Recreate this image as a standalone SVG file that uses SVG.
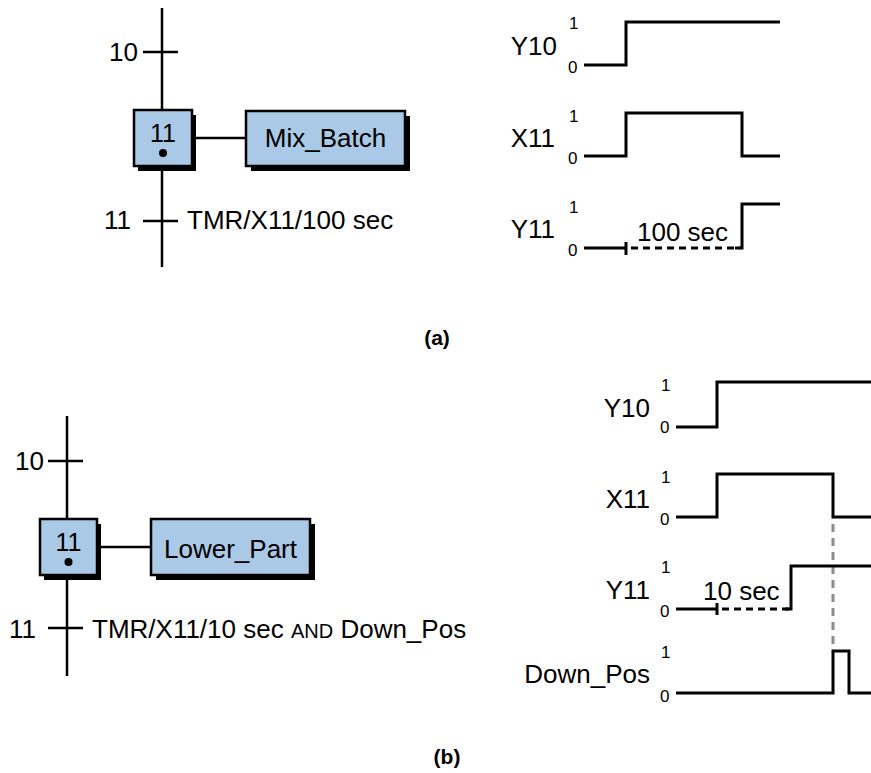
<svg xmlns="http://www.w3.org/2000/svg" width="871" height="773" viewBox="0 0 871 773">
<style>
text{font-family:"Liberation Sans",Arial,sans-serif;fill:#000}
.lbl{font-size:26px}
.num{font-size:25px}
.lv{font-size:17px}
.cap{font-size:21px;font-weight:bold}
.ln{stroke:#000;stroke-width:2.5;fill:none}
.sig{stroke:#000;stroke-width:3;fill:none;stroke-linejoin:miter}
.dash{stroke:#000;stroke-width:3;fill:none;stroke-dasharray:7 5}
.gdash{stroke:#8c8c8c;stroke-width:3;fill:none;stroke-dasharray:8 6}
.box{fill:#a9c9e6;stroke:#000;stroke-width:2.5}
.shd{fill:#000}
</style>

<!-- (a) ladder -->
<g id="connectors-a">
<line class="ln" x1="162" y1="8" x2="162" y2="110"/>
<line class="ln" x1="162" y1="166" x2="162" y2="267"/>
<line class="ln" x1="143" y1="52" x2="178" y2="52"/>
<line class="ln" x1="143" y1="221" x2="178" y2="221"/>
<line class="ln" x1="192" y1="138" x2="246" y2="138"/>
</g>
<g id="trans-10a"><text class="lbl" x="138" y="61" text-anchor="end">10</text></g>
<g id="trans-11a">
<text class="lbl" x="131" y="229" text-anchor="end">11</text>
<text class="lbl" x="187" y="229">TMR/X11/100 sec</text>
</g>
<g id="step-11a">
<rect class="shd" x="138" y="115" width="58" height="56"/>
<rect class="box" x="134" y="110" width="58" height="56"/>
<text class="num" x="163" y="142" text-anchor="middle">11</text>
<circle cx="163" cy="153" r="4"/>
</g>
<g id="action-mix">
<rect class="shd" x="251" y="116" width="159" height="55"/>
<rect class="box" x="246" y="111" width="159" height="55"/>
<text class="lbl" x="325.5" y="147" text-anchor="middle">Mix_Batch</text>
</g>

<!-- (a) timing -->
<g id="timing-a">
<text class="lbl" x="557" y="55" text-anchor="end">Y10</text>
<text class="lv" x="569" y="29">1</text>
<text class="lv" x="568" y="73">0</text>
<polyline class="sig" points="584,65 626,65 626,22 780,22"/>

<text class="lbl" x="555" y="147" text-anchor="end">X11</text>
<text class="lv" x="569" y="122">1</text>
<text class="lv" x="568" y="164">0</text>
<polyline class="sig" points="584,156 626,156 626,113 742,113 742,156 780,156"/>

<text class="lbl" x="555" y="238" text-anchor="end">Y11</text>
<text class="lv" x="569" y="213">1</text>
<text class="lv" x="568" y="256">0</text>
<line class="sig" x1="584" y1="248" x2="626" y2="248"/>
<line class="sig" x1="626" y1="242" x2="626" y2="255"/>
<line class="dash" x1="631" y1="248" x2="740" y2="248"/>
<polyline class="sig" points="735,248 742,248 742,204 780,204"/>
<text class="lbl" x="637" y="241">100 sec</text>
</g>
<text class="cap" x="437" y="345" text-anchor="middle">(a)</text>

<!-- (b) ladder -->
<g id="connectors-b">
<line class="ln" x1="67" y1="416" x2="67" y2="519"/>
<line class="ln" x1="67" y1="575" x2="67" y2="676"/>
<line class="ln" x1="48" y1="461" x2="83" y2="461"/>
<line class="ln" x1="48" y1="628" x2="83" y2="628"/>
<line class="ln" x1="97" y1="547" x2="151" y2="547"/>
</g>
<g id="trans-10b"><text class="lbl" x="44" y="470" text-anchor="end">10</text></g>
<g id="trans-11b">
<text class="lbl" x="36" y="638" text-anchor="end">11</text>
<text class="lbl" x="92" y="638">TMR/X11/10 sec <tspan style="font-size:20px">AND</tspan> Down_Pos</text>
</g>
<g id="step-11b">
<rect class="shd" x="44" y="524" width="57" height="56"/>
<rect class="box" x="40" y="519" width="57" height="56"/>
<text class="num" x="68.5" y="551" text-anchor="middle">11</text>
<circle cx="68.5" cy="562" r="4"/>
</g>
<g id="action-lower">
<rect class="shd" x="156" y="524" width="159" height="56"/>
<rect class="box" x="151" y="519" width="159" height="56"/>
<text class="lbl" x="230.5" y="558" text-anchor="middle">Lower_Part</text>
</g>

<!-- (b) timing -->
<g id="timing-b">
<line class="gdash" x1="833" y1="524" x2="833" y2="648"/>
<text class="lbl" x="650" y="417" text-anchor="end">Y10</text>
<text class="lv" x="661" y="391">1</text>
<text class="lv" x="660" y="433">0</text>
<polyline class="sig" points="676,427 717,427 717,382 871,382"/>

<text class="lbl" x="650" y="508" text-anchor="end">X11</text>
<text class="lv" x="661" y="483">1</text>
<text class="lv" x="660" y="525">0</text>
<polyline class="sig" points="676,517 717,517 717,474 833,474 833,517 871,517"/>

<text class="lbl" x="650" y="599" text-anchor="end">Y11</text>
<text class="lv" x="661" y="573">1</text>
<text class="lv" x="660" y="617">0</text>
<line class="sig" x1="676" y1="609" x2="717" y2="609"/>
<line class="sig" x1="717" y1="603" x2="717" y2="615"/>
<line class="dash" x1="722" y1="609" x2="789" y2="609"/>
<polyline class="sig" points="785,609 791,609 791,566 871,566"/>
<text class="lbl" x="703" y="600">10 sec</text>

<text class="lbl" x="650" y="683" text-anchor="end">Down_Pos</text>
<text class="lv" x="661" y="658">1</text>
<text class="lv" x="660" y="702">0</text>
<polyline class="sig" points="676,693 833,693 833,651 849,651 849,693 871,693"/>
</g>
<text class="cap" x="447" y="764" text-anchor="middle">(b)</text>
</svg>
